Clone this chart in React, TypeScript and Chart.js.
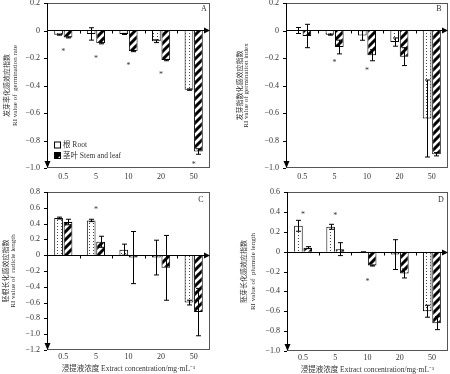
import React, { useEffect, useRef } from 'react';
import { Chart, registerables } from 'chart.js';
Chart.register(...registerables);

const categories = ['0.5', '5', '10', '20', '50'];

// Panel A: germination rate
const rootA = [-0.03, -0.025, -0.025, -0.078, -0.43];
const rootAErr = [0.004, 0.045, 0.004, 0.01, 0.005];
const stemA = [-0.05, -0.093, -0.15, -0.215, -0.88];
const stemAErr = [0.004, 0.004, 0.004, 0.005, 0.02];
const starsA = [-0.14, -0.19, -0.24, -0.31, -0.96];

// Panel B: germination index
const rootB = [0.0, -0.03, -0.036, -0.084, -0.64];
const rootBErr = [0.022, 0.004, 0.035, 0.03, 0.28];
const stemB = [-0.04, -0.12, -0.18, -0.19, -0.9];
const stemBErr = [0.085, 0.05, 0.04, 0.065, 0.012];
const starsB = [null, -0.22, -0.28, null, null];

// Panel C: radicle length
const rootC = [0.47, 0.44, 0.07, -0.03, -0.6];
const rootCErr = [0.012, 0.015, 0.07, 0.22, 0.03];
const stemC = [0.42, 0.17, -0.03, -0.16, -0.72];
const stemCErr = [0.035, 0.07, 0.33, 0.41, 0.3];
const starsC = [null, 0.6, null, null, null];

// Panel D: plumule length
const rootD = [0.26, 0.25, -0.005, -0.03, -0.6];
const rootDErr = [0.055, 0.025, 0.003, 0.15, 0.06];
const stemD = [0.04, 0.025, -0.14, -0.22, -0.72];
const stemDErr = [0.01, 0.065, 0.005, 0.045, 0.065];
const starsD = [0.39, 0.38, -0.28, null, null];

const legendLabels = ['根 Root', '茎叶 Stem and leaf'];
const xTitle = '浸提液浓度 Extract concentration/mg·mL⁻¹';

const FONT = "'Liberation Serif', 'Noto Sans CJK SC', serif";
const TEXT = '#333';
const EXTRA = 10;
const W = 225;
const H = 187 + EXTRA;

type Panel = {
  left: number; top: number;
  plotLeft: number; plotRight: number; plotTop: number; plotBottom: number;
  yMin: number; yMax: number;
  root: number[]; rootErr: number[]; stem: number[]; stemErr: number[]; stars: (number | null)[];
  letter: string; letterX: number; letterY: number;
  titleCn: string; titleEn: string; titleCnX: number; titleEnX: number;
  legend: boolean; xTitle: boolean; xTitleY: number; xTickPad: number;
};

const panels: Panel[] = [
  { left: 0, top: 0, plotLeft: 47, plotRight: 210, plotTop: 3, plotBottom: 168, yMin: -1.0, yMax: 0.2,
    root: rootA, rootErr: rootAErr, stem: stemA, stemErr: stemAErr, stars: starsA,
    letter: 'A', letterX: 204, letterY: 9, titleCn: '发芽率化感效应指数', titleEn: 'RI value of  germination rate',
    titleCnX: 7.5, titleEnX: 15, legend: true, xTitle: false, xTitleY: 0, xTickPad: 4 },
  { left: 225, top: 0, plotLeft: 61, plotRight: 223, plotTop: 3, plotBottom: 168, yMin: -1.0, yMax: 0.2,
    root: rootB, rootErr: rootBErr, stem: stemB, stemErr: stemBErr, stars: starsB,
    letter: 'B', letterX: 214, letterY: 9, titleCn: '发芽指数化感效应指数', titleEn: 'RI value of germination index',
    titleCnX: 15, titleEnX: 21.5, legend: false, xTitle: false, xTitleY: 0, xTickPad: 4 },
  { left: 0, top: 187, plotLeft: 47, plotRight: 210, plotTop: 5, plotBottom: 163, yMin: -1.2, yMax: 0.8,
    root: rootC, rootErr: rootCErr, stem: stemC, stemErr: stemCErr, stars: starsC,
    letter: 'C', letterX: 201, letterY: 13, titleCn: '胚根长化感效应指数', titleEn: 'RI value of  radicle length',
    titleCnX: 6, titleEnX: 13, legend: false, xTitle: true, xTitleY: 182, xTickPad: 2 },
  { left: 225, top: 187, plotLeft: 62, plotRight: 223, plotTop: 5, plotBottom: 164, yMin: -1.0, yMax: 0.6,
    root: rootD, rootErr: rootDErr, stem: stemD, stemErr: stemDErr, stars: starsD,
    letter: 'D', letterX: 216, letterY: 13, titleCn: '胚芽长化感效应指数', titleEn: 'RI value of  plumule length',
    titleCnX: 19.5, titleEnX: 28, legend: false, xTitle: true, xTitleY: 183, xTickPad: 2 },
];

function makePatterns() {
  const c1 = document.createElement('canvas');
  c1.width = 4; c1.height = 3;
  const g1 = c1.getContext('2d')!;
  g1.fillStyle = '#fff'; g1.fillRect(0, 0, 4, 3);
  g1.fillStyle = '#444'; g1.fillRect(1, 1, 1, 1);
  const c2 = document.createElement('canvas');
  c2.width = 8; c2.height = 8;
  const g2 = c2.getContext('2d')!;
  g2.fillStyle = '#fff'; g2.fillRect(0, 0, 8, 8);
  g2.strokeStyle = '#000'; g2.lineWidth = 3;
  g2.beginPath();
  g2.moveTo(-1, 9); g2.lineTo(9, -1);
  g2.moveTo(-3, 3); g2.lineTo(3, -3);
  g2.moveTo(5, 11); g2.lineTo(11, 5);
  g2.stroke();
  return { root: g1.createPattern(c1, 'repeat')!, stem: g2.createPattern(c2, 'repeat')! };
}

function fmt(v: number) {
  if (Math.abs(v) < 1e-9) return '0';
  return (v < 0 ? '−' : '') + Math.abs(v).toFixed(1);
}

function PanelChart({ p }: { p: Panel }) {
  const ref = useRef<HTMLCanvasElement>(null);
  useEffect(() => {
    const pats = makePatterns();
    const deco = {
      id: 'deco',
      afterDatasetsDraw(chart: any) {
        const ctx = chart.ctx;
        const a = chart.chartArea;
        const xs = chart.scales.x;
        const ys = chart.scales.y;
        ctx.save();
        // error bars
        ctx.strokeStyle = '#000';
        ctx.lineWidth = 1;
        [[p.root, p.rootErr], [p.stem, p.stemErr]].forEach((pair, di) => {
          const meta = chart.getDatasetMeta(di);
          meta.data.forEach((el: any, i: number) => {
            const v = pair[0][i];
            const e = pair[1][i];
            const y1 = ys.getPixelForValue(v + e);
            const y2 = ys.getPixelForValue(v - e);
            const x = Math.round(el.x) + 0.5;
            ctx.beginPath();
            ctx.moveTo(x, y1); ctx.lineTo(x, y2);
            ctx.moveTo(x - 2.5, y1); ctx.lineTo(x + 2.5, y1);
            ctx.moveTo(x - 2.5, y2); ctx.lineTo(x + 2.5, y2);
            ctx.stroke();
          });
        });
        // frame
        ctx.strokeStyle = '#555';
        ctx.lineWidth = 1;
        ctx.strokeRect(Math.round(a.left) + 0.5, Math.round(a.top) + 0.5, Math.round(a.right - a.left) - 1, Math.round(a.bottom - a.top) - 1);
        // left axis
        ctx.strokeStyle = '#000';
        ctx.beginPath();
        ctx.moveTo(Math.round(a.left) + 0.5, a.top);
        ctx.lineTo(Math.round(a.left) + 0.5, a.bottom - 4);
        ctx.stroke();
        // y ticks (outward)
        ys.ticks.forEach((t: any) => {
          const y = Math.round(ys.getPixelForValue(t.value)) + 0.5;
          ctx.beginPath();
          ctx.moveTo(a.left - 3, y); ctx.lineTo(a.left, y);
          ctx.stroke();
        });
        // zero line
        const y0 = Math.round(ys.getPixelForValue(0)) + 0.5;
        ctx.beginPath();
        ctx.moveTo(a.left, y0); ctx.lineTo(a.right - 5, y0);
        ctx.stroke();
        // category boundary ticks
        for (let i = 0; i < categories.length - 1; i++) {
          const bx = Math.round((xs.getPixelForValue(i) + xs.getPixelForValue(i + 1)) / 2) + 0.5;
          ctx.beginPath();
          ctx.moveTo(bx, y0); ctx.lineTo(bx, y0 + 3);
          ctx.stroke();
        }
        // arrows
        ctx.fillStyle = '#000';
        ctx.beginPath();
        ctx.moveTo(a.right, y0); ctx.lineTo(a.right - 6, y0 - 3); ctx.lineTo(a.right - 6, y0 + 3);
        ctx.closePath(); ctx.fill();
        const lx = Math.round(a.left) + 0.5;
        ctx.beginPath();
        ctx.moveTo(lx, a.bottom); ctx.lineTo(lx - 3, a.bottom - 7); ctx.lineTo(lx + 3, a.bottom - 7);
        ctx.closePath(); ctx.fill();
        // stars
        ctx.fillStyle = TEXT;
        ctx.font = `8px ${FONT}`;
        ctx.textAlign = 'center';
        ctx.textBaseline = 'middle';
        p.stars.forEach((s, i) => {
          if (s === null) return;
          ctx.fillText('*', xs.getPixelForValue(i), ys.getPixelForValue(s) + 2);
        });
        // panel letter
        ctx.font = `8px ${FONT}`;
        ctx.fillText(p.letter, p.letterX, p.letterY + EXTRA);
        // legend
        if (p.legend) {
          const items = [pats.root, pats.stem];
          const ly = [145, 155.5];
          ctx.textAlign = 'left';
          ctx.font = `7.5px ${FONT}`;
          items.forEach((pat, k) => {
            const yy = ly[k] + EXTRA;
            ctx.fillStyle = k === 0 ? '#fff' : pat;
            ctx.fillRect(54.5, yy - 3, 6, 6);
            if (k === 1) {
              ctx.fillStyle = '#000';
              ctx.beginPath();
              ctx.moveTo(54.5, yy + 3); ctx.lineTo(60.5, yy - 3); ctx.lineTo(54.5, yy - 3);
              ctx.closePath(); ctx.fill();
            }
            ctx.strokeStyle = '#000';
            ctx.strokeRect(54.5, yy - 3, 6, 6);
            ctx.fillStyle = TEXT;
            ctx.fillText(legendLabels[k], 63, yy + 0.5);
          });
        }
        // y titles
        const cy = (a.top + a.bottom) / 2;
        ctx.textAlign = 'center';
        ctx.fillStyle = TEXT;
        [[p.titleCn, p.titleCnX], [p.titleEn, p.titleEnX]].forEach(([txt, x]) => {
          ctx.save();
          ctx.translate(x as number, cy);
          ctx.rotate(-Math.PI / 2);
          ctx.font = `7px ${FONT}`;
          ctx.fillText(txt as string, 0, 0);
          ctx.restore();
        });
        // x title
        if (p.xTitle) {
          ctx.font = `7.5px ${FONT}`;
          ctx.fillText(xTitle, (a.left + a.right) / 2, p.xTitleY + EXTRA);
        }
        ctx.restore();
      },
    };
    const chart = new Chart(ref.current!, {
      type: 'bar',
      data: {
        labels: categories,
        datasets: [
          { label: legendLabels[0], data: p.root, backgroundColor: pats.root as any, borderColor: '#000', borderWidth: 1 },
          { label: legendLabels[1], data: p.stem, backgroundColor: pats.stem as any, borderColor: '#000', borderWidth: 1 },
        ],
      },
      options: {
        animation: false,
        responsive: false,
        devicePixelRatio: 1,
        categoryPercentage: 0.58,
        barPercentage: 0.92,
        layout: { padding: { top: p.plotTop + EXTRA, right: W - p.plotRight, left: 0, bottom: 0 } },
        plugins: { legend: { display: false }, tooltip: { enabled: false } },
        scales: {
          x: {
            grid: { display: false, drawTicks: false },
            border: { display: false },
            ticks: { font: { family: FONT, size: 8 }, color: TEXT, padding: p.xTickPad, maxRotation: 0, autoSkip: false },
            afterFit: (s: any) => { s.height = H - (p.plotBottom + EXTRA); },
          },
          y: {
            min: p.yMin,
            max: p.yMax,
            grid: { display: false, drawTicks: false },
            border: { display: false },
            ticks: { stepSize: 0.2, callback: (v: any) => fmt(Number(v)), font: { family: FONT, size: 8 }, color: TEXT, padding: 7 },
            afterFit: (s: any) => { s.width = p.plotLeft; },
          },
        },
      } as any,
      plugins: [deco],
    });
    return () => chart.destroy();
  }, [p]);
  return (
    <canvas
      ref={ref}
      width={W}
      height={H}
      style={{ position: 'absolute', left: p.left, top: p.top - EXTRA, width: W, height: H }}
    />
  );
}

export default function App() {
  return (
    <div style={{ position: 'absolute', left: 0, top: 0, width: 450, height: 374, background: '#fff', overflow: 'hidden' }}>
      {panels.map((p, i) => <PanelChart key={i} p={p} />)}
    </div>
  );
}
